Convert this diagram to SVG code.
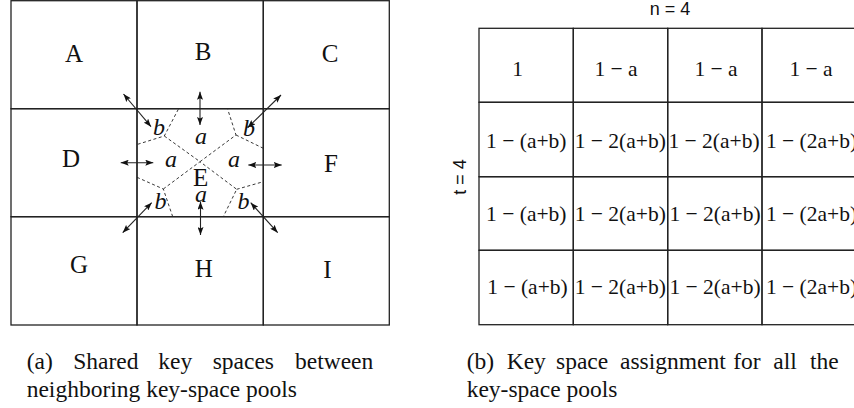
<svg xmlns="http://www.w3.org/2000/svg" width="854" height="408" viewBox="0 0 854 408">
<style>
.cell{fill:none;stroke:#222;stroke-width:1.3}
.big{font-family:"Liberation Serif","Times New Roman",serif;font-size:25px;fill:#111;text-anchor:middle}
.it{font-family:"Liberation Serif","Times New Roman",serif;font-size:24px;font-style:italic;fill:#111;text-anchor:middle}
.tb{font-family:"Liberation Serif","Times New Roman",serif;font-size:21.5px;fill:#111;text-anchor:middle}
.cap{font-family:"Liberation Serif","Times New Roman",serif;font-size:23.5px;fill:#111}
.sans{font-family:"Liberation Sans",Arial,sans-serif;font-size:18px;fill:#111;text-anchor:middle}
.dash{fill:none;stroke:#222;stroke-width:0.9;stroke-dasharray:3 2.5}
.arr{fill:none;stroke:#222;stroke-width:1.1;marker-start:url(#ah);marker-end:url(#ah)}
</style>
<defs>
<marker id="ah" viewBox="0 0 8 6" refX="8" refY="3" markerWidth="8" markerHeight="6" markerUnits="userSpaceOnUse" orient="auto-start-reverse">
<path d="M0,0 L8,3 L0,6 L1.5,3 z" fill="#111"/>
</marker>
</defs>
<rect width="854" height="408" fill="#fff"/>
<g id="left-grid">
<g id="node-A"><rect class="cell" x="11" y="0.7" width="126" height="108"/><text class="big" x="74" y="61.5">A</text></g>
<g id="node-B"><rect class="cell" x="137" y="0.7" width="126.3" height="108"/><text class="big" x="203" y="60">B</text></g>
<g id="node-C"><rect class="cell" x="263.3" y="0.7" width="126" height="108"/><text class="big" x="330" y="61.5">C</text></g>
<g id="node-D"><rect class="cell" x="11" y="108.7" width="126" height="108"/><text class="big" x="71" y="166.5">D</text></g>
<g id="node-E"><rect class="cell" x="137" y="108.7" width="126.3" height="108"/><text class="big" x="200.7" y="186">E</text></g>
<g id="node-F"><rect class="cell" x="263.3" y="108.7" width="126" height="108"/><text class="big" x="331" y="171.5">F</text></g>
<g id="node-G"><rect class="cell" x="11" y="216.7" width="126" height="108.3"/><text class="big" x="79" y="273.3">G</text></g>
<g id="node-H"><rect class="cell" x="137" y="216.7" width="126.3" height="108.3"/><text class="big" x="203.7" y="276.7">H</text></g>
<g id="node-I"><rect class="cell" x="263.3" y="216.7" width="126" height="108.3"/><text class="big" x="327.5" y="278.3">I</text></g>
</g>
<g id="partition">
<path class="dash" d="M178.3,109.3 L164.3,136 L137,144.5 M164.3,136 L200,161.7 L236,135 L227.7,109.3 M236,135 L263.3,148.3 M137,177.3 L163.3,189 L172.7,216.7 M163.3,189 L200,161.7 L236.7,189.3 L223.3,216.7 M236.7,189.3 L263.3,181.7"/>
<text class="it" x="159" y="135">b</text>
<text class="it" x="201" y="144.3">a</text>
<text class="it" x="249" y="136">b</text>
<text class="it" x="171" y="167.3">a</text>
<text class="it" x="234" y="167.3">a</text>
<text class="it" x="201" y="201.7">a</text>
<text class="it" x="160.5" y="209.3">b</text>
<text class="it" x="243.5" y="209.3">b</text>
</g>
<g id="connectors">
<line class="arr" x1="200" y1="91.7" x2="200" y2="125"/>
<line class="arr" x1="200.5" y1="201.7" x2="200.5" y2="235"/>
<line class="arr" x1="120.7" y1="162.7" x2="153.3" y2="162.7"/>
<line class="arr" x1="248.3" y1="165" x2="281.7" y2="165"/>
<line class="arr" x1="123.5" y1="94" x2="151" y2="126.7"/>
<line class="arr" x1="281" y1="95" x2="247.7" y2="127.7"/>
<line class="arr" x1="151.7" y1="202.7" x2="122.7" y2="232.7"/>
<line class="arr" x1="250.7" y1="202.7" x2="277.7" y2="232.7"/>
</g>
<g id="caption-a" class="cap">
<text x="26.7" y="368.5">(a)</text>
<text x="73.3" y="368.5">Shared</text>
<text x="158.3" y="368.5">key</text>
<text x="212.7" y="368.5">spaces</text>
<text x="295" y="368.5">between</text>
<text x="26.7" y="396.5">neighboring key-space pools</text>
</g>
<g id="right-table">
<text class="sans" x="670" y="15">n = 4</text>
<text class="sans" transform="translate(465.5,177) rotate(-90)">t = 4</text>
<g id="r1c1"><rect class="cell" x="479" y="28.3" width="94.3" height="74"/><text class="tb" x="517.5" y="76">1</text></g>
<g id="r1c2"><rect class="cell" x="573.3" y="28.3" width="94.4" height="74"/><text class="tb" x="616" y="76">1 − a</text></g>
<g id="r1c3"><rect class="cell" x="667.7" y="28.3" width="94.3" height="74"/><text class="tb" x="716" y="76">1 − a</text></g>
<g id="r1c4"><rect class="cell" x="762" y="28.3" width="94.3" height="74"/><text class="tb" x="811" y="76">1 − a</text></g>
<g id="r2c1"><rect class="cell" x="479" y="102.3" width="94.3" height="74.4"/><text class="tb" x="526.3" y="147.5">1 − (a+b)</text></g>
<g id="r2c2"><rect class="cell" x="573.3" y="102.3" width="94.4" height="74.4"/><text class="tb" x="620.3" y="147.5">1 − 2(a+b)</text></g>
<g id="r2c3"><rect class="cell" x="667.7" y="102.3" width="94.3" height="74.4"/><text class="tb" x="714" y="147.5">1 − 2(a+b)</text></g>
<g id="r2c4"><rect class="cell" x="762" y="102.3" width="94.3" height="74.4"/><text class="tb" x="811.5" y="147.5">1 − (2a+b)</text></g>
<g id="r3c1"><rect class="cell" x="479" y="176.7" width="94.3" height="73.6"/><text class="tb" x="526.3" y="220.7">1 − (a+b)</text></g>
<g id="r3c2"><rect class="cell" x="573.3" y="176.7" width="94.4" height="73.6"/><text class="tb" x="620.3" y="220.7">1 − 2(a+b)</text></g>
<g id="r3c3"><rect class="cell" x="667.7" y="176.7" width="94.3" height="73.6"/><text class="tb" x="715" y="220.7">1 − 2(a+b)</text></g>
<g id="r3c4"><rect class="cell" x="762" y="176.7" width="94.3" height="73.6"/><text class="tb" x="811.5" y="220.7">1 − (2a+b)</text></g>
<g id="r4c1"><rect class="cell" x="479" y="250.3" width="94.3" height="74.4"/><text class="tb" x="527.5" y="294">1 − (a+b)</text></g>
<g id="r4c2"><rect class="cell" x="573.3" y="250.3" width="94.4" height="74.4"/><text class="tb" x="620.3" y="294">1 − 2(a+b)</text></g>
<g id="r4c3"><rect class="cell" x="667.7" y="250.3" width="94.3" height="74.4"/><text class="tb" x="715" y="294">1 − 2(a+b)</text></g>
<g id="r4c4"><rect class="cell" x="762" y="250.3" width="94.3" height="74.4"/><text class="tb" x="811.5" y="294">1 − (2a+b)</text></g>
</g>
<g id="caption-b" class="cap">
<text x="466.7" y="368.5">(b)</text>
<text x="506.7" y="368.5">Key</text>
<text x="556" y="368.5">space</text>
<text x="620" y="368.5">assignment</text>
<text x="733.3" y="368.5">for</text>
<text x="773.3" y="368.5">all</text>
<text x="810" y="368.5">the</text>
<text x="466.7" y="396.5">key-space pools</text>
</g>
</svg>
